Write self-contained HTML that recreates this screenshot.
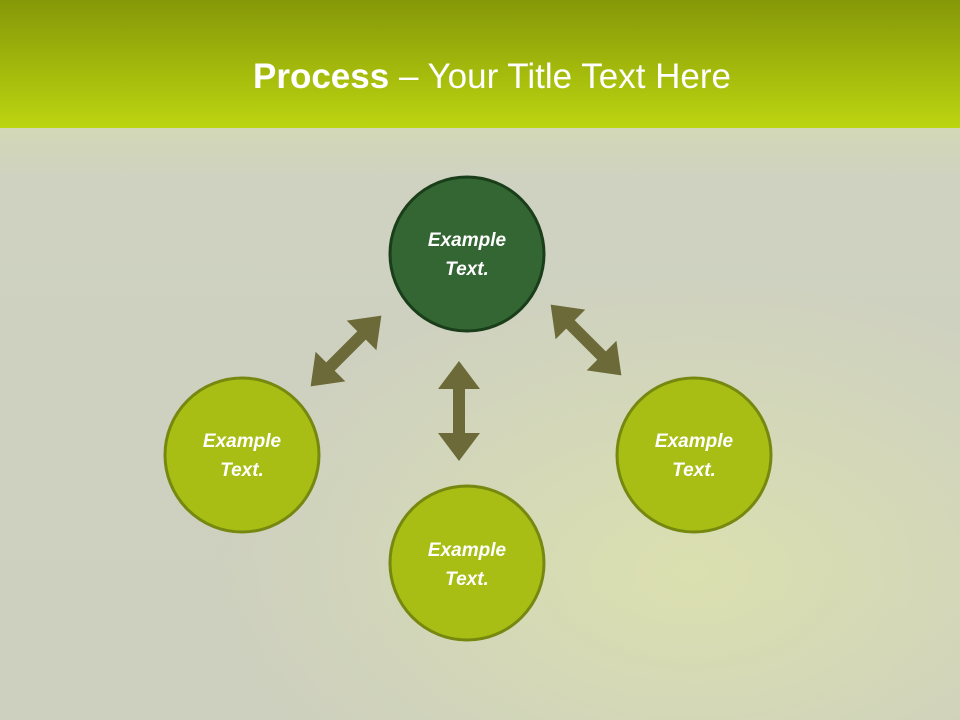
<!DOCTYPE html>
<html><head><style>body{margin:0}svg{display:block}</style></head><body>
<svg width="960" height="720" xmlns="http://www.w3.org/2000/svg">
<defs>
<linearGradient id="hd" x1="0" y1="0" x2="0" y2="1"><stop offset="0" stop-color="#859808"/><stop offset="1" stop-color="#bcd510"/></linearGradient>
<linearGradient id="bg" x1="0" y1="0" x2="0" y2="1"><stop offset="0" stop-color="#e0ec90"/><stop offset="0.06" stop-color="#d8e2a8"/><stop offset="0.25" stop-color="#cfd2c0"/><stop offset="1" stop-color="#cdcfbf"/></linearGradient>
<radialGradient id="glow" cx="0.72" cy="0.75" r="0.5"><stop offset="0" stop-color="#e8f0a0" stop-opacity="0.5"/><stop offset="1" stop-color="#e8f0a0" stop-opacity="0"/></radialGradient>
<g id="arr"><polygon points="-50,0 -22,-21 -22,-6 22,-6 22,-21 50,0 22,21 22,6 -22,6 -22,21" fill="#6b6a38"/></g>
</defs>
<rect width="960" height="720" fill="url(#bg)"/>
<rect y="128" width="960" height="592" fill="url(#glow)"/>
<rect width="960" height="128" fill="url(#hd)"/>
<text x="492" y="88" text-anchor="middle" font-family="Liberation Sans, sans-serif" font-size="35" fill="#fff"><tspan font-weight="bold">Process</tspan> – Your Title Text Here</text>
<use href="#arr" transform="translate(459,411) rotate(90)"/>
<use href="#arr" transform="translate(346,351) rotate(-45)"/>
<use href="#arr" transform="translate(586,340) rotate(45)"/>
<g font-family="Liberation Sans, sans-serif" font-size="19" font-style="italic" font-weight="bold" fill="#fff" text-anchor="middle">
<circle cx="467" cy="254" r="77" fill="#336633" stroke="#1a3d1a" stroke-width="3"/>
<text x="467" y="246">Example</text><text x="467" y="275">Text.</text>
<circle cx="242" cy="455" r="77" fill="#a8be14" stroke="#76880f" stroke-width="3"/>
<text x="242" y="447">Example</text><text x="242" y="476">Text.</text>
<circle cx="694" cy="455" r="77" fill="#a8be14" stroke="#76880f" stroke-width="3"/>
<text x="694" y="447">Example</text><text x="694" y="476">Text.</text>
<circle cx="467" cy="563" r="77" fill="#a8be14" stroke="#76880f" stroke-width="3"/>
<text x="467" y="556">Example</text><text x="467" y="585">Text.</text>
</g>
</svg>
</body></html>
